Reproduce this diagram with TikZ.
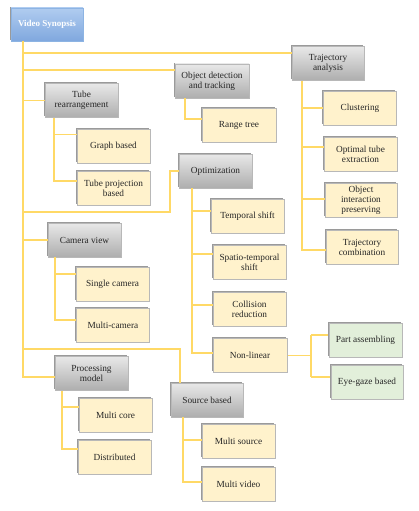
\documentclass[tikz,border=0pt]{standalone}
\usepackage{fontspec}
\setmainfont{Liberation Serif}
\definecolor{lnc}{HTML}{FFD966}
\definecolor{ylw}{HTML}{FFF2CC}
\definecolor{grn}{HTML}{E2EFDA}
\definecolor{bdr}{HTML}{B8B8B8}
\definecolor{txt}{HTML}{262626}
\definecolor{shd}{HTML}{9A9A9A}
\begin{document}
\begin{tikzpicture}[x=1pt,y=-1pt,
  basebox/.style={draw=bdr,line width=0.6pt,align=center,inner sep=1pt,
    font=\fontsize{9.3}{10.2}\selectfont,text=txt,
    preaction={draw=none,fill=shd,transform canvas={xshift=-1.3pt,yshift=1.3pt}}},
  gbox/.style={basebox,top color=black!9,bottom color=black!32,
    minimum width=73pt,minimum height=34pt},
  ybox/.style={basebox,fill=ylw,minimum width=73pt,minimum height=34pt},
  grbox/.style={basebox,fill=grn,minimum width=73pt,minimum height=34pt},
  bbox/.style={basebox,draw={rgb,255:red,141;green,180;blue,227},
    top color={rgb,255:red,176;green,204;blue,240},
    bottom color={rgb,255:red,128;green,168;blue,222},
    text=white,font=\fontsize{9}{10}\selectfont\bfseries,
    minimum width=72pt,minimum height=33pt},
  conn/.style={draw=lnc,line width=1.5pt}]
\useasboundingbox (0,0) rectangle (419,511);
\fill[white] (0,0) rectangle (419,511);

% trunk coordinates
\coordinate (vsx) at (23,41);
\coordinate (trx) at (54,0);
\coordinate (cvx) at (55,0);
\coordinate (pmx) at (62,0);
\coordinate (odx) at (185,0);
\coordinate (tax) at (302,0);
\coordinate (opx) at (192,0);
\coordinate (sbx) at (183,0);
\coordinate (jnl) at (311,355.5);
\coordinate (opb) at (170,212);
\coordinate (sbb) at (180,349);
\coordinate (nle) at (287,355.5);
\coordinate (pae) at (329,335);
\coordinate (ege) at (331,377);

% Non-linear fork first
\draw[conn] (nle) -- (jnl);
\draw[conn] (pae -| jnl) -- (ege -| jnl);
\draw[conn] (pae -| jnl) -- (pae);
\draw[conn] (ege -| jnl) -- (ege);

\node[bbox] (vs) at (47,24.5) {Video Synopsis};

\node[gbox] (tr) at (81.5,100.5) {Tube\\rearrangement};
\node[ybox] (gb) at (113.5,146) {Graph based};
\node[ybox] (tp) at (113.5,188.5) {Tube projection\\based};

\node[gbox] (cv) at (84.5,240) {Camera view};
\node[ybox] (sc) at (112.5,284) {Single camera};
\node[ybox] (mc) at (113,325.5) {Multi-camera};

\node[gbox] (pm) at (91.5,373.5) {Processing\\model};
\node[ybox] (mco) at (115.5,415.5) {Multi core};
\node[ybox] (di) at (114.5,457) {Distributed};

\node[gbox,minimum width=74pt] (od) at (212,81) {Object detection\\and tracking};
\node[ybox,minimum width=74pt] (rt) at (239,125.5) {Range tree};

\node[gbox,minimum width=72pt] (ta) at (328,63.5) {Trajectory\\analysis};
\node[ybox] (cl) at (360,108) {Clustering};
\node[ybox] (ot) at (360.5,154.5) {Optimal tube\\extraction};
\node[ybox,minimum width=72pt] (oi) at (361,200.5) {Object\\interaction\\preserving};
\node[ybox,minimum width=72pt] (tc) at (362,247.5) {Trajectory\\combination};

\node[gbox] (op) at (215.5,171) {Optimization};
\node[ybox] (ts) at (247.5,216) {Temporal shift};
\node[ybox] (st) at (249.5,262.5) {Spatio-temporal\\shift};
\node[ybox] (cr) at (249.5,309) {Collision\\reduction};
\node[ybox,minimum width=74pt] (nonlin) at (250,355.5) {Non-linear};
\node[grbox] (partasm) at (365.5,340) {Part assembling};
\node[grbox,minimum width=72pt] (eyegaze) at (367,382) {Eye-gaze based};

\node[gbox,minimum width=72pt] (sb) at (207,400) {Source based};
\node[ybox] (ms) at (238.5,441) {Multi source};
\node[ybox] (mv) at (238.5,484) {Multi video};

% main trunk
\draw[conn] (vsx) |- ([yshift=-3.5pt]pm.west);
\draw[conn] (vsx) |- ([yshift=10.5pt]ta.west);
\draw[conn] (vsx) |- ([yshift=11pt]od.west);
\draw[conn] (vsx) |- (tr.west);
\draw[conn] (vsx) |- (opb) |- (op.west);
\draw[conn] (vsx) |- (cv.west);
\draw[conn] (vsx) |- (sbb) -- (sbb |- sb.north);

% tube rearrangement
\draw[conn] (tr.south -| trx) |- ([yshift=11.5pt]gb.west);
\draw[conn] (tr.south -| trx) |- ([yshift=7.5pt]tp.west);
% camera view
\draw[conn] (cv.south -| cvx) |- ([yshift=10pt]sc.west);
\draw[conn] (cv.south -| cvx) |- ([yshift=5.5pt]mc.west);
% processing model
\draw[conn] (pm.south -| pmx) |- ([yshift=8.5pt]mco.west);
\draw[conn] (pm.south -| pmx) |- ([yshift=8pt]di.west);
% object detection
\draw[conn] (od.south -| odx) |- ([yshift=6.5pt]rt.west);
% trajectory analysis
\draw[conn] (ta.south -| tax) |- (cl.west);
\draw[conn] (ta.south -| tax) |- ([yshift=7.5pt]ot.west);
\draw[conn] (ta.south -| tax) |- ([yshift=1.5pt]oi.west);
\draw[conn] (ta.south -| tax) |- ([yshift=-2.5pt]tc.west);
% optimization
\draw[conn] (op.south -| opx) |- ([yshift=5pt]ts.west);
\draw[conn] (op.south -| opx) |- ([yshift=8.5pt]st.west);
\draw[conn] (op.south -| opx) |- ([yshift=4pt]cr.west);
\draw[conn] (op.south -| opx) |- ([yshift=2.5pt]nonlin.west);
% source based
\draw[conn] (sb.south -| sbx) |- ([yshift=1pt]ms.west);
\draw[conn] (sb.south -| sbx) |- ([yshift=2pt]mv.west);
\end{tikzpicture}
\end{document}
